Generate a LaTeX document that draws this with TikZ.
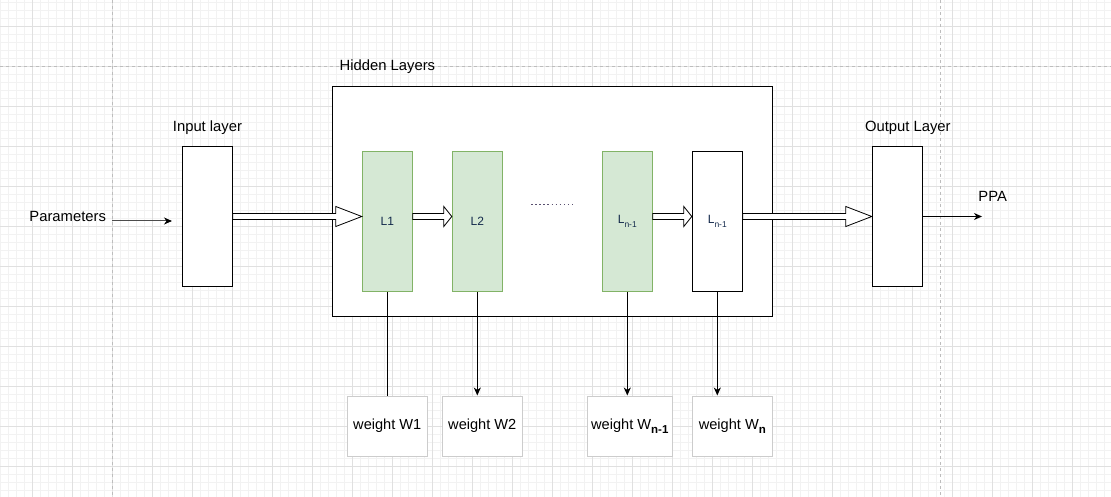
\documentclass[tikz,border=0pt]{standalone}
\usepackage{fontspec}
\setmainfont{Liberation Sans}
\usetikzlibrary{arrows.meta,calc}
\definecolor{gfill}{HTML}{D5E8D4}
\definecolor{gline}{HTML}{82B366}
\definecolor{wline}{HTML}{CCCCCC}
\definecolor{gridmajor}{HTML}{E0E0E0}
\definecolor{gridminor}{HTML}{F2F2F2}
\definecolor{griddash}{HTML}{BDBDBD}
\definecolor{ltext}{HTML}{13294B}
\definecolor{dotcol}{HTML}{5A5070}
\newcommand{\blockarr}[3]{%
  \draw[blockarrow] ($(#1.east|-in.east)+(0,-3)$) -- ($(#2.west|-in.east)+(-#3,-3)$)
    -- ($(#2.west|-in.east)+(-#3,-10)$) -- (#2.west|-in.east)
    -- ($(#2.west|-in.east)+(-#3,10)$) -- ($(#2.west|-in.east)+(-#3,3)$)
    -- ($(#1.east|-in.east)+(0,3)$) -- cycle;}
\begin{document}
\begin{tikzpicture}[x=1pt,y=-1pt,
  box/.style={draw=black,line width=1pt,fill=white,minimum width=50pt,minimum height=140pt,inner sep=0pt},
  gbox/.style={box,draw=gline,fill=gfill},
  wbox/.style={draw=wline,line width=1pt,fill=white,minimum height=60pt,inner sep=0pt,font=\fontsize{14.6}{16}\selectfont},
  lbl/.style={inner sep=0pt,anchor=base,font=\fontsize{14.8}{16}\selectfont},
  ltxt/.style={font=\fontsize{12}{14}\selectfont,text=ltext},
  blockarrow/.style={draw=black,line width=0.8pt,fill=white,line join=miter},
  thinarrow/.style={draw=black,line width=1pt,-{Stealth[length=8pt,width=7pt,inset=2.5pt,color=black]}},
]
% background and grid
\fill[white] (0,0) rectangle (1111,497);
\useasboundingbox (0,0) rectangle (1111,497);
\foreach \i in {0,...,138} \draw[gridminor,line width=0.7pt] ({0.5+8*\i},0) -- ({0.5+8*\i},497);
\foreach \i in {0,...,61} \draw[gridminor,line width=0.7pt] (0,{2.5+8*\i}) -- (1111,{2.5+8*\i});
\foreach \i in {0,...,27} \draw[gridmajor,line width=0.8pt] ({32.5+40*\i},0) -- ({32.5+40*\i},497);
\foreach \i in {0,...,11} \draw[gridmajor,line width=0.8pt] (0,{26.5+40*\i}) -- (1111,{26.5+40*\i});
\draw[griddash,line width=0.9pt,dash pattern=on 3pt off 3pt] (112.5,0) -- (112.5,497);
\draw[griddash,line width=0.9pt,dash pattern=on 3pt off 3pt] (940,0) -- (940,497);
\draw[griddash,line width=0.9pt,dash pattern=on 3pt off 3pt] (0,66.5) -- (1111,66.5);

% main boxes
\node[box] (in) at (207.3,216.5) {};
\node[draw=black,line width=1pt,fill=white,minimum width=440pt,minimum height=230pt,inner sep=0pt] (hid) at (552.3,201.2) {};
\node[gbox,ltxt] (L1) at (387.3,221.3) {L1};
\node[gbox,ltxt] (L2) at (477.3,221.3) {L2};
\node[gbox,ltxt] (L3) at (627.3,221.3) {L\raisebox{-3.5pt}{\fontsize{8.5}{9}\selectfont n-1}};
\node[box,ltxt] (L4) at (717.3,221.3) {L\raisebox{-3.5pt}{\fontsize{8.5}{9}\selectfont n-1}};
\node[box] (out) at (897.3,216.5) {};

% weight boxes
\node[wbox,minimum width=80pt] (W1) at (387.3,426) {weight W1};
\node[wbox,minimum width=80pt] (W2) at (482.3,426) {weight W2};
\node[wbox,minimum width=85pt] (W3) at (629.8,426) {weight W\raisebox{-4.5pt}{\fontsize{11.5}{12}\selectfont\bfseries n-1}};
\node[wbox,minimum width=80pt] (W4) at (732.3,426) {weight W\raisebox{-4.5pt}{\fontsize{11.5}{12}\selectfont\bfseries n}};

% labels
\node[lbl] (inlbl) at (207.5,131.5) {Input layer};
\node[lbl,anchor=base west] (hidlbl) at (339.5,71) {Hidden Layers};
\node[lbl] (outlbl) at (907.8,132) {Output Layer};
\node[lbl] (ppalbl) at (992.7,202) {PPA};
\node[lbl] (paramlbl) at (67.7,221.7) {Parameters};

% block arrows
\blockarr{in}{L1}{26}
\blockarr{L1}{L2}{8}
\blockarr{L3}{L4}{8}
\blockarr{L4}{out}{26}

% dots between layers
\coordinate (d1) at (531,204.3);
\coordinate (d2) at (573,204.3);
\draw[dotcol,line width=1.2pt,dash pattern=on 1.5pt off 2.6pt] (d1) -- (d2);

% thin arrows
\coordinate (pa) at (112.3,221);
\coordinate (pb) at (172,221);
\draw[thinarrow,draw=black!70] (pa) -- (pb);
\coordinate (ppa) at (982,216.5);
\draw[thinarrow] (out.east) -- (ppa);

% weight connectors
\draw[black,line width=1pt] (L1.south) -- (W1.north);
\draw[thinarrow] (L2.south) -- (L2.south |- W2.north);
\draw[thinarrow] (L3.south) -- (L3.south |- W3.north);
\draw[thinarrow] (L4.south) -- (L4.south |- W4.north);
\end{tikzpicture}
\end{document}
